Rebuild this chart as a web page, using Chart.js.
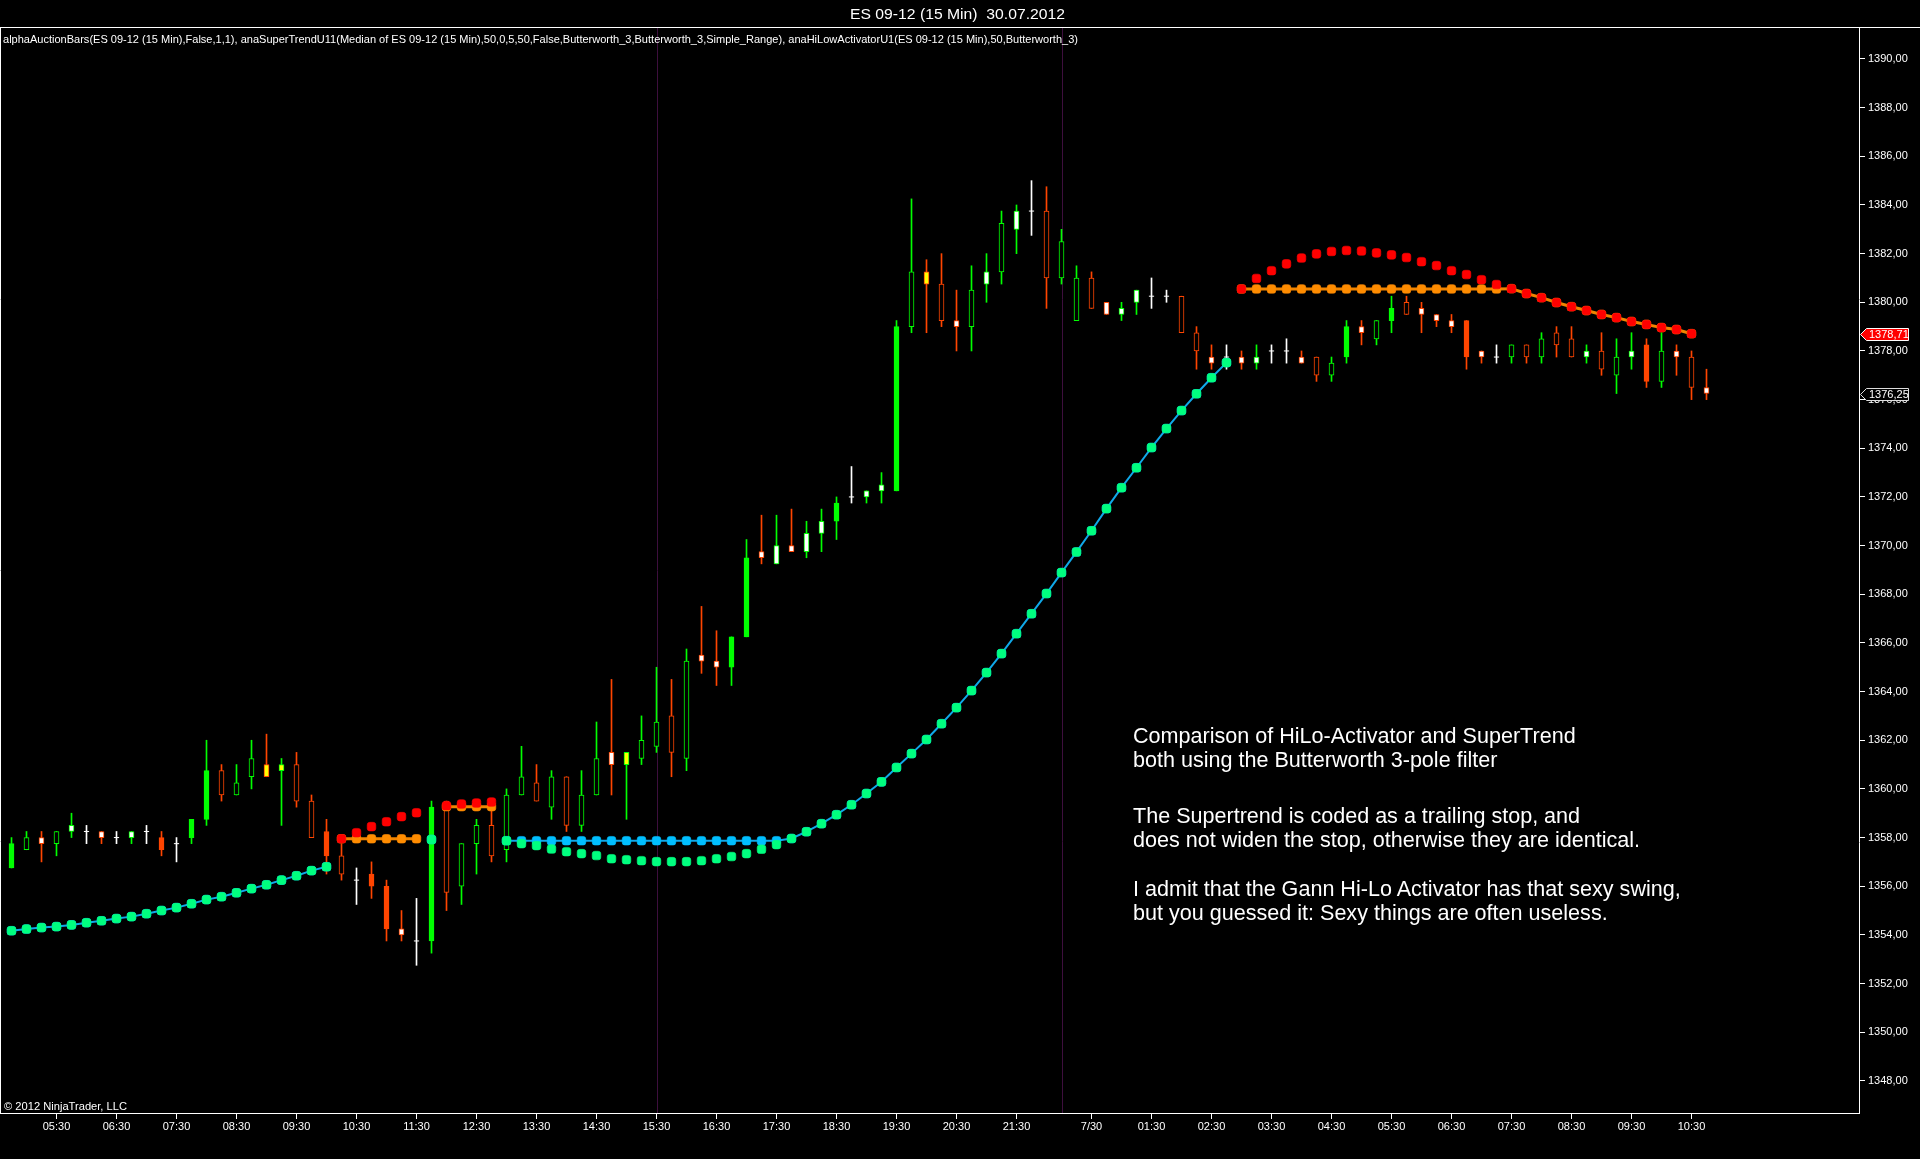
<!DOCTYPE html>
<html><head><meta charset="utf-8">
<script src="https://cdn.jsdelivr.net/npm/chart.js@4.4.1/dist/chart.umd.min.js"></script>
<style>
html,body{margin:0;padding:0;background:#000;width:1920px;height:1159px;overflow:hidden}
#wrap{position:relative;width:1920px;height:1159px;background:#000}
#c{position:absolute;left:0;top:0}
.t{position:absolute;color:#fff;font-family:"Liberation Sans",Arial,sans-serif;white-space:pre;line-height:1;transform-origin:0 0;margin:0}
</style></head><body>
<div id="wrap">
<canvas id="c" width="1920" height="1159"></canvas>
<div class="t" id="title">ES 09-12 (15 Min)  30.07.2012</div>
<div class="t" id="legend">alphaAuctionBars(ES 09-12 (15 Min),False,1,1), anaSuperTrendU11(Median of ES 09-12 (15 Min),50,0,5,50,False,Butterworth_3,Butterworth_3,Simple_Range), anaHiLowActivatorU1(ES 09-12 (15 Min),50,Butterworth_3)</div>
<div class="t" id="copy">© 2012 NinjaTrader, LLC</div>
<div class="t note" id="n1">Comparison of HiLo-Activator and SuperTrend</div>
<div class="t note" id="n2">both using the Butterworth 3-pole filter</div>
<div class="t note" id="n3">The Supertrend is coded as a trailing stop, and</div>
<div class="t note" id="n4">does not widen the stop, otherwise they are identical.</div>
<div class="t note" id="n5">I admit that the Gann Hi-Lo Activator has that sexy swing,</div>
<div class="t note" id="n6">but you guessed it: Sexy things are often useless.</div>
</div>
<script>
const _ = null;
const times = ['04:45','05:00','05:15','05:30','05:45','06:00','06:15','06:30','06:45','07:00',
'07:15','07:30','07:45','08:00','08:15','08:30','08:45','09:00','09:15','09:30',
'09:45','10:00','10:15','10:30','10:45','11:00','11:15','11:30','11:45','12:00',
'12:15','12:30','12:45','13:00','13:15','13:30','13:45','14:00','14:15','14:30',
'14:45','15:00','15:15','15:30','15:45','16:00','16:15','16:30','16:45','17:00',
'17:15','17:30','17:45','18:00','18:15','18:30','18:45','19:00','19:15','19:30',
'19:45','20:00','20:15','20:30','20:45','21:00','21:15','21:30','21:45','22:00',
'22:15','00:15','00:30','00:45','01:00','01:15','01:30','01:45','02:00','02:15',
'02:30','02:45','03:00','03:15','03:30','03:45','04:00','04:15','04:30','04:45',
'05:00','05:15','05:30','05:45','06:00','06:15','06:30','06:45','07:00','07:15',
'07:30','07:45','08:00','08:15','08:30','08:45','09:00','09:15','09:30','09:45',
'10:00','10:15','10:30','10:45'];
const dateLabels = {'00:30':'7/30'};
const sessionBreaks = ['15:30','22:15'];

const open = [1356.75,1357.5,1358.0,1357.75,1358.25,1358.25,1358.25,1358.0,1358.0,1358.25,
1358.0,1357.75,1358.0,1358.75,1360.75,1359.75,1360.5,1361.0,1360.75,1361.0,
1359.5,1358.25,1357.25,1356.25,1356.5,1356.0,1354.25,1353.75,1353.75,1359.5,
1356.0,1357.75,1358.5,1357.5,1359.75,1360.25,1359.25,1360.5,1358.5,1359.75,
1361.5,1361.0,1361.25,1361.75,1363.0,1361.25,1365.5,1365.25,1365.0,1366.25,
1369.75,1369.25,1370.0,1369.75,1370.5,1371.0,1372.0,1372.0,1372.25,1372.25,
1379.0,1381.25,1380.75,1379.25,1379.0,1380.75,1381.25,1383.0,1383.75,1383.75,
1381.0,1379.25,1381.0,1380.0,1379.5,1380.0,1380.25,1380.25,1380.25,1378.75,
1377.75,1377.75,1377.75,1377.5,1378.0,1378.0,1377.75,1377.75,1377.0,1377.75,
1379.0,1378.5,1379.25,1380.0,1379.75,1379.5,1379.25,1379.25,1378.0,1377.75,
1377.75,1378.25,1377.75,1378.75,1378.5,1377.75,1378.0,1377.0,1377.75,1378.25,
1376.75,1378.0,1377.75,1376.5];
const high = [1358.0,1358.25,1358.25,1358.25,1359.0,1358.5,1358.25,1358.25,1358.25,1358.5,
1358.25,1358.0,1358.75,1362.0,1361.0,1361.0,1362.0,1362.25,1361.25,1361.5,
1359.75,1358.75,1357.75,1356.75,1357.0,1356.25,1355.0,1355.5,1359.5,1359.5,
1357.75,1358.75,1359.5,1360.0,1361.75,1361.0,1360.75,1360.5,1360.75,1362.75,
1364.5,1361.5,1363.0,1365.0,1364.5,1365.75,1367.5,1366.5,1366.25,1370.25,
1371.25,1371.25,1371.5,1371.0,1371.5,1372.0,1373.25,1372.25,1373.0,1379.25,
1384.25,1381.75,1382.0,1380.5,1381.5,1382.0,1383.75,1384.0,1385.0,1384.75,
1383.0,1381.5,1381.25,1380.0,1380.0,1380.5,1381.0,1380.5,1380.25,1379.0,
1378.25,1378.25,1378.0,1378.25,1378.25,1378.5,1378.0,1377.75,1377.75,1379.25,
1379.25,1379.25,1380.25,1380.25,1380.0,1379.5,1379.5,1379.25,1378.0,1378.25,
1378.25,1378.25,1378.75,1379.0,1379.0,1378.25,1378.75,1378.5,1378.75,1378.5,
1378.75,1378.25,1378.0,1377.25];
const low = [1356.75,1357.5,1357.0,1357.25,1358.0,1357.75,1357.75,1357.75,1357.75,1357.75,
1357.25,1357.0,1357.75,1358.5,1359.5,1359.75,1360.0,1360.5,1358.5,1359.25,
1358.0,1356.5,1356.25,1355.25,1355.5,1353.75,1353.75,1352.75,1353.25,1355.0,
1355.25,1356.5,1357.0,1357.0,1359.75,1359.5,1358.75,1358.25,1358.25,1359.75,
1359.75,1358.75,1361.0,1361.5,1360.5,1360.75,1364.75,1364.25,1364.25,1366.25,
1369.25,1369.25,1369.75,1369.5,1369.75,1370.25,1371.75,1371.75,1371.75,1372.25,
1378.75,1378.75,1379.0,1378.0,1378.0,1380.0,1380.75,1382.0,1382.75,1379.75,
1380.75,1379.25,1379.75,1379.5,1379.25,1379.5,1379.75,1380.0,1378.75,1377.25,
1377.25,1377.25,1377.25,1377.25,1377.5,1377.5,1377.5,1376.75,1376.75,1377.5,
1378.25,1378.25,1378.75,1379.5,1378.75,1379.0,1378.75,1377.25,1377.5,1377.5,
1377.5,1377.5,1377.5,1377.75,1377.75,1377.5,1377.0,1376.25,1377.25,1376.5,
1376.5,1377.0,1376.0,1376.0];
const close = [1357.75,1358.0,1357.75,1358.25,1358.5,1358.25,1358.0,1358.0,1358.25,1358.25,
1357.5,1357.75,1358.75,1360.75,1359.75,1360.25,1361.25,1360.5,1361.0,1359.5,
1358.0,1357.25,1356.5,1356.25,1356.0,1354.25,1354.0,1353.75,1359.25,1355.75,
1357.75,1358.5,1357.25,1359.75,1360.5,1359.5,1360.5,1358.5,1359.75,1361.25,
1361.0,1361.5,1362.0,1362.75,1361.5,1365.25,1365.25,1365.0,1366.25,1369.5,
1369.5,1370.0,1369.75,1370.5,1371.0,1371.75,1372.0,1372.25,1372.5,1379.0,
1381.25,1380.75,1379.25,1379.0,1380.5,1381.25,1383.25,1383.75,1383.75,1381.0,
1382.5,1381.0,1379.75,1379.5,1379.75,1380.5,1380.25,1380.25,1378.75,1378.0,
1377.5,1377.75,1377.5,1377.75,1378.0,1378.0,1377.5,1377.0,1377.5,1379.0,
1378.75,1379.25,1379.75,1379.5,1379.5,1379.25,1379.0,1377.75,1377.75,1377.75,
1378.25,1377.75,1378.5,1378.25,1377.75,1378.0,1377.25,1377.75,1378.0,1376.75,
1378.0,1377.75,1376.5,1376.25];
// auction bar class: F = filled, H = hollow, W = white core, Y = yellow core, D = doji
const auctionType = ['F','H','W','H','W','D','W','D','W','D',
'F','D','F','F','H','H','H','Y','Y','H',
'H','F','H','D','F','F','W','D','F','H',
'H','H','H','H','H','H','H','H','H','H',
'W','Y','H','H','H','H','W','W','F','F',
'W','W','W','W','W','F','D','W','W','F',
'H','Y','H','W','H','W','H','W','D','H',
'H','H','H','W','W','W','D','D','H','H',
'W','D','W','W','D','D','W','H','H','F',
'W','H','F','H','W','W','W','F','W','D',
'H','H','H','H','H','W','H','H','W','F',
'H','W','H','W'];

const superTrendUp = [1354.17,1354.24,1354.30,1354.34,1354.41,1354.50,1354.58,1354.67,1354.75,1354.87,
1355.00,1355.12,1355.28,1355.45,1355.57,1355.73,1355.90,1356.06,1356.25,1356.43,
1356.64,1356.80,_,_,_,_,_,_,1357.92,_,
_,_,_,1357.87,1357.87,1357.87,1357.87,1357.87,1357.87,1357.87,
1357.87,1357.87,1357.87,1357.87,1357.87,1357.87,1357.87,1357.87,1357.87,1357.87,
1357.87,1357.87,1357.96,1358.24,1358.57,1358.94,1359.35,1359.81,1360.29,1360.88,
1361.45,1362.03,1362.68,1363.34,1364.04,1364.78,1365.56,1366.38,1367.20,1368.03,
1368.89,1369.74,1370.61,1371.52,1372.38,1373.20,1374.03,1374.81,1375.55,1376.24,
1376.90,1377.52,_,_,_,_,_,_,_,_,
_,_,_,_,_,_,_,_,_,_,
_,_,_,_,_,_,_,_,_,_,
_,_,_,_];
const superTrendDown = [_,_,_,_,_,_,_,_,_,_,
_,_,_,_,_,_,_,_,_,_,
_,_,1357.95,1357.95,1357.95,1357.95,1357.95,1357.95,_,1359.27,
1359.27,1359.27,1359.27,_,_,_,_,_,_,_,
_,_,_,_,_,_,_,_,_,_,
_,_,_,_,_,_,_,_,_,_,
_,_,_,_,_,_,_,_,_,_,
_,_,_,_,_,_,_,_,_,_,
_,_,1380.55,1380.55,1380.55,1380.55,1380.55,1380.55,1380.55,1380.55,
1380.55,1380.55,1380.55,1380.55,1380.55,1380.55,1380.55,1380.55,1380.55,1380.55,
1380.56,1380.36,1380.19,1379.99,1379.82,1379.66,1379.50,1379.37,1379.21,1379.09,
1378.96,1378.88,1378.71,_];
const hiLoUp = [1354.17,1354.24,1354.30,1354.34,1354.41,1354.50,1354.58,1354.67,1354.75,1354.87,
1355.00,1355.12,1355.28,1355.45,1355.57,1355.73,1355.90,1356.06,1356.25,1356.43,
1356.64,1356.80,_,_,_,_,_,_,1357.92,_,
_,_,_,1357.87,1357.75,1357.67,1357.53,1357.42,1357.34,1357.26,
1357.13,1357.09,1357.05,1357.01,1357.01,1357.01,1357.05,1357.13,1357.22,1357.34,
1357.52,1357.71,1357.96,1358.24,1358.57,1358.94,1359.35,1359.81,1360.29,1360.88,
1361.45,1362.03,1362.68,1363.34,1364.04,1364.78,1365.56,1366.38,1367.20,1368.03,
1368.89,1369.74,1370.61,1371.52,1372.38,1373.20,1374.03,1374.81,1375.55,1376.24,
1376.90,1377.52,_,_,_,_,_,_,_,_,
_,_,_,_,_,_,_,_,_,_,
_,_,_,_,_,_,_,_,_,_,
_,_,_,_];
const hiLoDown = [_,_,_,_,_,_,_,_,_,_,
_,_,_,_,_,_,_,_,_,_,
_,_,1357.95,1358.20,1358.45,1358.65,1358.86,1359.02,_,1359.31,
1359.38,1359.42,1359.46,_,_,_,_,_,_,_,
_,_,_,_,_,_,_,_,_,_,
_,_,_,_,_,_,_,_,_,_,
_,_,_,_,_,_,_,_,_,_,
_,_,_,_,_,_,_,_,_,_,
_,_,1380.55,1380.98,1381.30,1381.58,1381.82,1381.99,1382.09,1382.13,
1382.11,1382.03,1381.95,1381.84,1381.67,1381.51,1381.30,1381.14,1380.93,1380.73,
1380.56,1380.36,1380.19,1379.99,1379.82,1379.66,1379.50,1379.37,1379.21,1379.09,
1378.96,1378.88,1378.71,_];
const priceTicks = [1348,1350,1352,1354,1356,1358,1360,1362,1364,1366,1368,1370,1372,1374,1376,1378,1380,1382,1384,1386,1388,1390];
const priceMarkers = [1378.71, 1376.25];

/* ---------- styling ---------- */
const UP = '#00ff00', DN = '#ff4500', DOJI = '#ffffff';
const FONT = '"Liberation Sans", Arial, sans-serif';
function dirColor(i){ return close[i] > open[i] ? UP : (close[i] < open[i] ? DN : DOJI); }
function coreColor(i){
  const t = auctionType[i];
  if (t === 'F') return dirColor(i);
  if (t === 'H') return '#000000';
  if (t === 'W') return '#ffffff';
  if (t === 'Y') return '#ffff00';
  return DOJI;
}
const idx = times.map((t,i)=>i);
const wickData = idx.map(i => ({x:i, y:[low[i], high[i]]}));
const bodyData = idx.filter(i => open[i] !== close[i]).map(i => ({x:i, y:[open[i], close[i]]}));
const dojiData = idx.filter(i => open[i] === close[i]).map(i => ({x:i, y:open[i]}));
const pts = arr => arr.map((v,i) => ({x:i, y:v}));
const xTicks = idx.filter(i => times[i].endsWith(':30'));

const PLOT_TOP = 28, AXIS_W = 61, AXIS_H = 46, BAR_PX = 15, FIRST_PX = 11.5;
const xMin = -FIRST_PX / BAR_PX, xMax = xMin + (1920 - AXIS_W) / BAR_PX;
const PPU = 24.33;
const yMax = 1390 + (59 - PLOT_TOP) / PPU;
const yMin = 1390 - (1113 - 59) / PPU;

const dotCommon = {pointStyle:'rectRounded', pointRadius:5, pointHoverRadius:5, pointBorderWidth:0.6, spanGaps:false, tension:0};

const framePlugin = {
  id:'frame',
  beforeDatasetsDraw(chart){
    const {ctx, chartArea:a, scales:{x}} = chart;
    ctx.save();
    ctx.strokeStyle = '#3d0f3d'; ctx.lineWidth = 1;
    sessionBreaks.forEach(t => {
      const i = times.indexOf(t);
      const px = Math.round(x.getPixelForValue(i)) + 0.5;
      ctx.beginPath(); ctx.moveTo(px, a.top); ctx.lineTo(px, a.bottom); ctx.stroke();
    });
    ctx.restore();
  },
  afterDraw(chart){
    const {ctx, chartArea:a, scales:{y}} = chart;
    ctx.save();
    ctx.strokeStyle = '#ffffff'; ctx.lineWidth = 1;
    ctx.beginPath(); ctx.moveTo(0, PLOT_TOP - 0.5); ctx.lineTo(1920, PLOT_TOP - 0.5); ctx.stroke();
    ctx.beginPath(); ctx.moveTo(0.5, PLOT_TOP); ctx.lineTo(0.5, a.bottom); ctx.stroke();
    priceMarkers.forEach((v, k) => {
      const py = Math.round(y.getPixelForValue(v)) + 0.5;
      const l = a.right + 1.5, r = a.right + 49.5, h = 6;
      ctx.beginPath();
      ctx.moveTo(l, py); ctx.lineTo(l + 6, py - h); ctx.lineTo(r, py - h); ctx.lineTo(r, py + h); ctx.lineTo(l + 6, py + h); ctx.closePath();
      ctx.fillStyle = k === 0 ? '#ff0000' : '#000000';
      ctx.fill();
      ctx.strokeStyle = k === 0 ? '#ffffff' : '#dddddd';
      ctx.stroke();
      ctx.fillStyle = '#ffffff';
      ctx.font = '11px ' + FONT;
      ctx.textBaseline = 'middle'; ctx.textAlign = 'left';
      ctx.fillText(v.toFixed(2).replace('.', ','), l + 8.5, py + 0.5);
    });
    ctx.restore();
  }
};

Chart.defaults.font.family = FONT;
Chart.defaults.font.size = 11;
Chart.defaults.color = '#ffffff';

new Chart(document.getElementById('c'), {
  type:'bar',
  data:{
    datasets:[
      {type:'line', label:'HiLo down', data:pts(hiLoDown), showLine:false, order:0,
        pointBackgroundColor:'#ff0000', pointBorderColor:'#ff0000', ...dotCommon},
      {type:'line', label:'HiLo up', data:pts(hiLoUp), showLine:false, order:1,
        pointBackgroundColor:'#00ff7f', pointBorderColor:'#00ff7f', ...dotCommon},
      {type:'line', label:'SuperTrend down', data:pts(superTrendDown), order:2,
        borderColor:'#f08400', borderWidth:3, pointBackgroundColor:'#ff8c00', pointBorderColor:'#ff8c00', ...dotCommon},
      {type:'line', label:'SuperTrend up', data:pts(superTrendUp), order:3,
        borderColor:'#10a8e8', borderWidth:2, pointBackgroundColor:'#00bfff', pointBorderColor:'#00bfff', ...dotCommon},
      {type:'line', label:'Doji', data:dojiData, showLine:false, order:4,
        pointStyle:'line', pointRadius:2.6, pointHoverRadius:2.6, pointBorderWidth:1, pointBorderColor:DOJI, pointBackgroundColor:DOJI},
      {type:'bar', label:'Body', data:bodyData, order:5, grouped:false, barThickness:5,
        borderWidth:1, borderSkipped:false,
        backgroundColor:c => c.raw ? coreColor(c.raw.x) : '#000',
        borderColor:c => c.raw ? dirColor(c.raw.x) : '#000'},
      {type:'bar', label:'Wick', data:wickData, order:6, grouped:false, barThickness:1,
        borderWidth:0, borderSkipped:false,
        backgroundColor:c => c.raw ? dirColor(c.raw.x) : '#000'}
    ]
  },
  options:{
    responsive:false, devicePixelRatio:1, animation:false,
    layout:{padding:{top:PLOT_TOP, left:0, right:0, bottom:0}, autoPadding:false},
    plugins:{legend:{display:false}, tooltip:{enabled:false}, title:{display:false}},
    events:[],
    scales:{
      x:{type:'linear', min:xMin, max:xMax, offset:false,
        grid:{display:true, drawOnChartArea:false, drawTicks:true, tickLength:6, tickColor:'#ffffff', offset:false},
        border:{display:true, color:'#ffffff', width:1},
        afterBuildTicks:s => { s.ticks = xTicks.map(v => ({value:v})); },
        afterFit:s => { s.height = AXIS_H; s.paddingLeft = 0; s.paddingRight = 0; },
        ticks:{autoSkip:false, maxRotation:0, minRotation:0, padding:1, color:'#ffffff', font:{size:11},
          callback:v => { const t = times[v]; return t === undefined ? '' : (dateLabels[t] || t); }}
      },
      y:{type:'linear', position:'right', min:yMin, max:yMax, beginAtZero:false,
        grid:{display:true, drawOnChartArea:false, drawTicks:true, tickLength:6, tickColor:'#ffffff'},
        border:{display:true, color:'#ffffff', width:1},
        afterBuildTicks:s => { s.ticks = priceTicks.map(v => ({value:v})); },
        afterFit:s => { s.width = AXIS_W; s.paddingTop = 0; s.paddingBottom = 0; },
        ticks:{padding:3, color:'#ffffff', font:{size:11},
          callback:v => Number(v).toFixed(2).replace('.', ',')}
      }
    }
  },
  plugins:[framePlugin]
});

/* ---------- free texts ---------- */
const mctx = document.createElement('canvas').getContext('2d');
function measure(text, size){ mctx.font = size + 'px ' + FONT; return mctx.measureText(text).width; }
function place(id, size, left, baseline, targetW, center){
  const el = document.getElementById(id);
  el.style.fontSize = size + 'px';
  const w = measure(el.textContent, size);
  let k = 1;
  if (targetW) { k = targetW / w; if (k < 0.8 || k > 1.25) k = 1; }
  el.style.transform = 'scaleX(' + k.toFixed(4) + ')';
  el.style.left = (center ? left - w * k / 2 : left) + 'px';
  el.style.top = (baseline - 0.8465 * size) + 'px';
}
place('title', 15, 957, 19, 215, true);
place('legend', 11, 3, 43, 1075, false);
place('copy', 11, 4, 1110.5, 123, false);
const w1 = measure(document.getElementById('n1').textContent, 21);
const ns = Math.max(18, Math.min(23, 21 * 443 / w1));
const noteBase = [743, 767, 823, 847, 896, 920];
['n1','n2','n3','n4','n5','n6'].forEach((id, k) => place(id, ns, 1133, noteBase[k], 0, false));
</script>
</body></html>
